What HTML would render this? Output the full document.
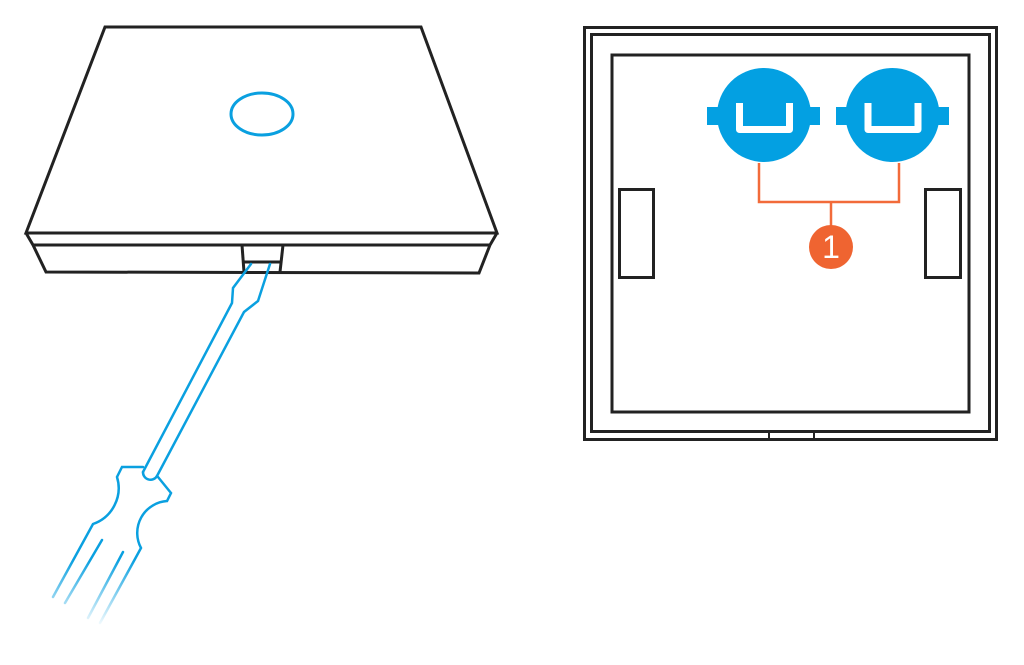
<!DOCTYPE html>
<html>
<head>
<meta charset="utf-8">
<style>
  html,body{margin:0;padding:0;background:#fff;}
  svg{display:block;}
</style>
</head>
<body>
<svg width="1024" height="665" viewBox="0 0 1024 665" xmlns="http://www.w3.org/2000/svg">
  <defs>
    <linearGradient id="fade" gradientUnits="userSpaceOnUse" x1="0" y1="560" x2="0" y2="628">
      <stop offset="0" stop-color="#0aa0e0" stop-opacity="1"/>
      <stop offset="1" stop-color="#0aa0e0" stop-opacity="0"/>
    </linearGradient>
  </defs>
  <rect width="1024" height="665" fill="#fff"/>

  <!-- Left device -->
  <g fill="none" stroke="#222" stroke-width="3" stroke-linejoin="miter">
    <polygon points="105,27 421,27 497,233 26,233"/>
    <polyline points="26,233 33,245 46,272 479,273 490,245 497,233"/>
    <line x1="33" y1="245" x2="490" y2="245"/>
    <polyline points="242,245 244,272"/>
    <polyline points="283,245 280,272"/>
    <line x1="244" y1="262" x2="280" y2="262"/>
  </g>
  <ellipse cx="262" cy="114" rx="31" ry="21" fill="none" stroke="#0aa0e0" stroke-width="3"/>

  <!-- Screwdriver -->
  <g fill="none" stroke="url(#fade)" stroke-width="2.5" stroke-linejoin="miter" stroke-linecap="round">
    <path d="M251,264 L233,288 L232,303 L143,472"/>
    <path d="M270,264 L258,301 L244,312 L157,476"/>
    <path d="M143,472 A7.5,7.5 0 0 0 157,476"/>
    <path d="M143,467 L122,467 L117,477 A38,38 0 0 1 93,524 L53,597"/>
    <path d="M158,477 L171,493 L167,501 A32,32 0 0 0 141,548 L100,623"/>
    <path d="M102,540 L65,603"/>
    <path d="M123,552 L88,618"/>
  </g>

  <!-- Right device -->
  <g fill="none" stroke="#222" stroke-width="3">
    <rect x="584.5" y="27.5" width="412" height="412"/>
    <rect x="591.5" y="34.5" width="398" height="397"/>
    <rect x="612" y="55" width="357" height="357"/>
    <rect x="619.5" y="189.5" width="34" height="88"/>
    <rect x="925.5" y="189.5" width="35" height="88"/>
  </g>
  <g stroke="#222" stroke-width="2">
    <line x1="769" y1="432" x2="769" y2="440"/>
    <line x1="814" y1="432" x2="814" y2="440"/>
  </g>

  <!-- Knobs -->
  <g fill="#03a0e2">
    <circle cx="764" cy="115" r="47"/>
    <rect x="707" y="107" width="113" height="18"/>
    <circle cx="892.5" cy="115" r="47"/>
    <rect x="836" y="107" width="113" height="18"/>
  </g>
  <g fill="none" stroke="#fff" stroke-width="7" stroke-linejoin="round">
    <path d="M739.5,103 V129.5 H789.5 V103"/>
    <path d="M868,103 V129.5 H918 V103"/>
  </g>

  <!-- Callout -->
  <g fill="none" stroke="#f26b3a" stroke-width="2.5">
    <path d="M759,163 V202 H899 V163"/>
    <path d="M831,202 V226"/>
  </g>
  <circle cx="831" cy="247" r="22" fill="#ef6431"/>
  <text x="831" y="258" text-anchor="middle" font-family="Liberation Sans, sans-serif" font-size="32" fill="#fff">1</text>
</svg>
</body>
</html>
